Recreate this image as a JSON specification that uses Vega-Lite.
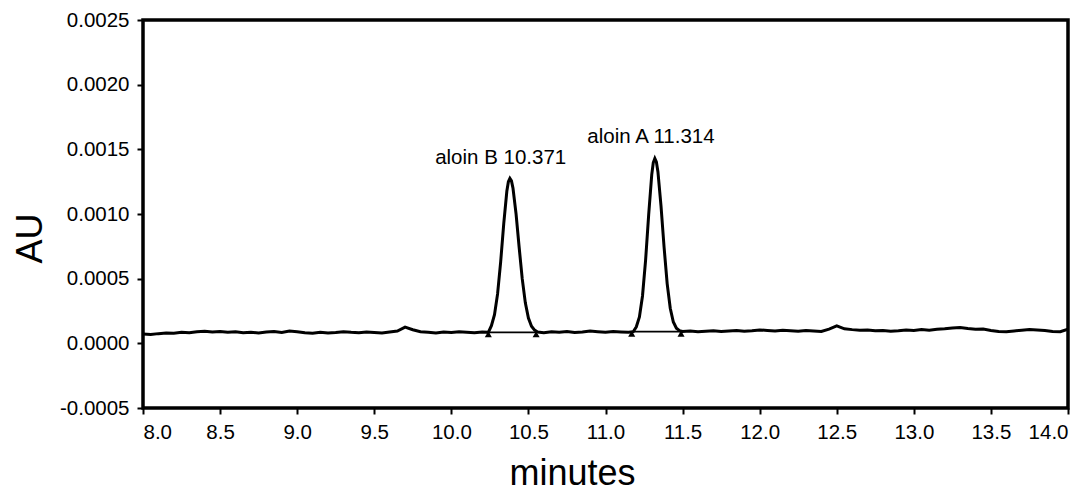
{
  "$schema": "https://vega.github.io/schema/vega-lite/v6.json",
  "autosize": "none",
  "width": 925,
  "height": 388,
  "padding": {"left": 143, "top": 20, "right": 17, "bottom": 85},
  "background": "white",
  "config": {
    "font": "Liberation Sans",
    "view": {"stroke": "black", "strokeWidth": 3.5},
    "axis": {"grid": false, "domain": false, "tickColor": "black", "tickWidth": 2, "tickSize": 6, "labelColor": "black", "labelFontSize": 20.5, "labelPadding": 8, "titleColor": "black", "titleFontWeight": "normal", "titleFontSize": 36}
  },
  "datasets": {
    "trace": [
      {"t": 8.00, "au": 0.000072}, {"t": 8.05, "au": 0.000068}, {"t": 8.10, "au": 0.000075}, {"t": 8.15, "au": 0.000080},
      {"t": 8.20, "au": 0.000078}, {"t": 8.25, "au": 0.000085}, {"t": 8.30, "au": 0.000082}, {"t": 8.35, "au": 0.000090},
      {"t": 8.40, "au": 0.000094}, {"t": 8.45, "au": 0.000088}, {"t": 8.50, "au": 0.000092}, {"t": 8.55, "au": 0.000086},
      {"t": 8.60, "au": 0.000090}, {"t": 8.65, "au": 0.000082}, {"t": 8.70, "au": 0.000085}, {"t": 8.75, "au": 0.000080},
      {"t": 8.80, "au": 0.000088}, {"t": 8.85, "au": 0.000092}, {"t": 8.90, "au": 0.000084}, {"t": 8.95, "au": 0.000095},
      {"t": 9.00, "au": 0.000090}, {"t": 9.05, "au": 0.000082}, {"t": 9.10, "au": 0.000078}, {"t": 9.15, "au": 0.000086},
      {"t": 9.20, "au": 0.000080}, {"t": 9.25, "au": 0.000084}, {"t": 9.30, "au": 0.000090}, {"t": 9.35, "au": 0.000085},
      {"t": 9.40, "au": 0.000082}, {"t": 9.45, "au": 0.000088}, {"t": 9.50, "au": 0.000084}, {"t": 9.55, "au": 0.000080},
      {"t": 9.60, "au": 0.000088}, {"t": 9.65, "au": 0.000095}, {"t": 9.70, "au": 0.000125}, {"t": 9.75, "au": 0.000105},
      {"t": 9.80, "au": 0.000090}, {"t": 9.85, "au": 0.000086}, {"t": 9.90, "au": 0.000080}, {"t": 9.95, "au": 0.000088},
      {"t": 10.00, "au": 0.000084}, {"t": 10.05, "au": 0.000090}, {"t": 10.10, "au": 0.000086}, {"t": 10.15, "au": 0.000082},
      {"t": 10.20, "au": 0.000088}, {"t": 10.24, "au": 0.000085}, {"t": 10.26, "au": 0.000137}, {"t": 10.28, "au": 0.000221},
      {"t": 10.30, "au": 0.000382}, {"t": 10.32, "au": 0.000630}, {"t": 10.34, "au": 0.000926}, {"t": 10.36, "au": 0.001176},
      {"t": 10.37, "au": 0.001249}, {"t": 10.38, "au": 0.001275}, {"t": 10.39, "au": 0.001256}, {"t": 10.40, "au": 0.001199},
      {"t": 10.42, "au": 0.000999}, {"t": 10.44, "au": 0.000741}, {"t": 10.46, "au": 0.000498}, {"t": 10.48, "au": 0.000313},
      {"t": 10.50, "au": 0.000195}, {"t": 10.52, "au": 0.000132}, {"t": 10.54, "au": 0.000102}, {"t": 10.56, "au": 0.000088},
      {"t": 10.60, "au": 0.000082}, {"t": 10.65, "au": 0.000090}, {"t": 10.70, "au": 0.000086}, {"t": 10.75, "au": 0.000092},
      {"t": 10.80, "au": 0.000084}, {"t": 10.85, "au": 0.000088}, {"t": 10.90, "au": 0.000095}, {"t": 10.95, "au": 0.000090},
      {"t": 11.00, "au": 0.000086}, {"t": 11.05, "au": 0.000092}, {"t": 11.10, "au": 0.000088}, {"t": 11.15, "au": 0.000085},
      {"t": 11.18, "au": 0.000090}, {"t": 11.20, "au": 0.000128}, {"t": 11.22, "au": 0.000204}, {"t": 11.24, "au": 0.000366},
      {"t": 11.26, "au": 0.000641}, {"t": 11.28, "au": 0.000993}, {"t": 11.30, "au": 0.001304}, {"t": 11.31, "au": 0.001398},
      {"t": 11.32, "au": 0.001430}, {"t": 11.33, "au": 0.001403}, {"t": 11.34, "au": 0.001327}, {"t": 11.36, "au": 0.001063},
      {"t": 11.38, "au": 0.000743}, {"t": 11.40, "au": 0.000462}, {"t": 11.42, "au": 0.000271}, {"t": 11.44, "au": 0.000165},
      {"t": 11.46, "au": 0.000117}, {"t": 11.48, "au": 0.000098}, {"t": 11.50, "au": 0.000092}, {"t": 11.55, "au": 0.000096},
      {"t": 11.60, "au": 0.000090}, {"t": 11.65, "au": 0.000094}, {"t": 11.70, "au": 0.000098}, {"t": 11.75, "au": 0.000092},
      {"t": 11.80, "au": 0.000096}, {"t": 11.85, "au": 0.000100}, {"t": 11.90, "au": 0.000094}, {"t": 11.95, "au": 0.000098},
      {"t": 12.00, "au": 0.000104}, {"t": 12.05, "au": 0.000100}, {"t": 12.10, "au": 0.000096}, {"t": 12.15, "au": 0.000102},
      {"t": 12.20, "au": 0.000098}, {"t": 12.25, "au": 0.000094}, {"t": 12.30, "au": 0.000100}, {"t": 12.35, "au": 0.000096},
      {"t": 12.40, "au": 0.000092}, {"t": 12.45, "au": 0.000110}, {"t": 12.50, "au": 0.000135}, {"t": 12.55, "au": 0.000112},
      {"t": 12.60, "au": 0.000106}, {"t": 12.65, "au": 0.000102}, {"t": 12.70, "au": 0.000104}, {"t": 12.75, "au": 0.000098},
      {"t": 12.80, "au": 0.000100}, {"t": 12.85, "au": 0.000094}, {"t": 12.90, "au": 0.000098}, {"t": 12.95, "au": 0.000104},
      {"t": 13.00, "au": 0.000100}, {"t": 13.05, "au": 0.000106}, {"t": 13.10, "au": 0.000102}, {"t": 13.15, "au": 0.000108},
      {"t": 13.20, "au": 0.000112}, {"t": 13.25, "au": 0.000118}, {"t": 13.30, "au": 0.000122}, {"t": 13.35, "au": 0.000114},
      {"t": 13.40, "au": 0.000108}, {"t": 13.45, "au": 0.000110}, {"t": 13.50, "au": 0.000100}, {"t": 13.55, "au": 0.000092},
      {"t": 13.60, "au": 0.000090}, {"t": 13.65, "au": 0.000096}, {"t": 13.70, "au": 0.000102}, {"t": 13.75, "au": 0.000106},
      {"t": 13.80, "au": 0.000104}, {"t": 13.85, "au": 0.000100}, {"t": 13.90, "au": 0.000092}, {"t": 13.95, "au": 0.000090},
      {"t": 14.00, "au": 0.000110}
    ],
    "integration": [
      {"start": 10.24, "end": 10.55, "level": 0.000085},
      {"start": 11.17, "end": 11.49, "level": 0.000090}
    ],
    "markers": [
      {"t": 10.24, "au": 0.000070}, {"t": 10.55, "au": 0.000070},
      {"t": 11.17, "au": 0.000075}, {"t": 11.49, "au": 0.000075}
    ],
    "labels": [
      {"t": 10.32, "au": 0.001433, "label": "aloin B 10.371"},
      {"t": 11.295, "au": 0.001595, "label": "aloin A 11.314"}
    ]
  },
  "layer": [
    {
      "data": {"name": "integration"},
      "mark": {"type": "rule", "color": "black", "strokeWidth": 1.8},
      "encoding": {
        "x": {"field": "start", "type": "quantitative"},
        "x2": {"field": "end"},
        "y": {"field": "level", "type": "quantitative"}
      }
    },
    {
      "data": {"name": "trace"},
      "mark": {"type": "line", "color": "black", "strokeWidth": 3, "clip": true},
      "encoding": {
        "x": {
          "field": "t", "type": "quantitative",
          "scale": {"domain": [8, 14], "nice": false, "zero": false},
          "axis": {"values": [8, 8.5, 9, 9.5, 10, 10.5, 11, 11.5, 12, 12.5, 13, 13.5, 14], "format": ".1f", "title": "minutes", "titleX": 429, "titleY": 76, "titleAlign": "center", "titleBaseline": "alphabetic"}
        },
        "y": {
          "field": "au", "type": "quantitative",
          "scale": {"domain": [-0.0005, 0.0025], "nice": false, "zero": false},
          "axis": {"values": [-0.0005, 0, 0.0005, 0.001, 0.0015, 0.002, 0.0025], "labelExpr": "replace(format(datum.value, '.4f'), '\u2212', '-')", "title": "AU", "titleX": -113, "titleY": 218, "titleAngle": -90, "titleAlign": "center", "titleBaseline": "middle"}
        }
      }
    },
    {
      "data": {"name": "markers"},
      "mark": {"type": "point", "shape": "triangle-up", "filled": true, "color": "black", "size": 50, "opacity": 1},
      "encoding": {
        "x": {"field": "t", "type": "quantitative"},
        "y": {"field": "au", "type": "quantitative"}
      }
    },
    {
      "data": {"name": "labels"},
      "mark": {"type": "text", "fontSize": 20.5, "color": "black", "align": "center", "baseline": "middle"},
      "encoding": {
        "x": {"field": "t", "type": "quantitative"},
        "y": {"field": "au", "type": "quantitative"},
        "text": {"field": "label"}
      }
    }
  ]
}
